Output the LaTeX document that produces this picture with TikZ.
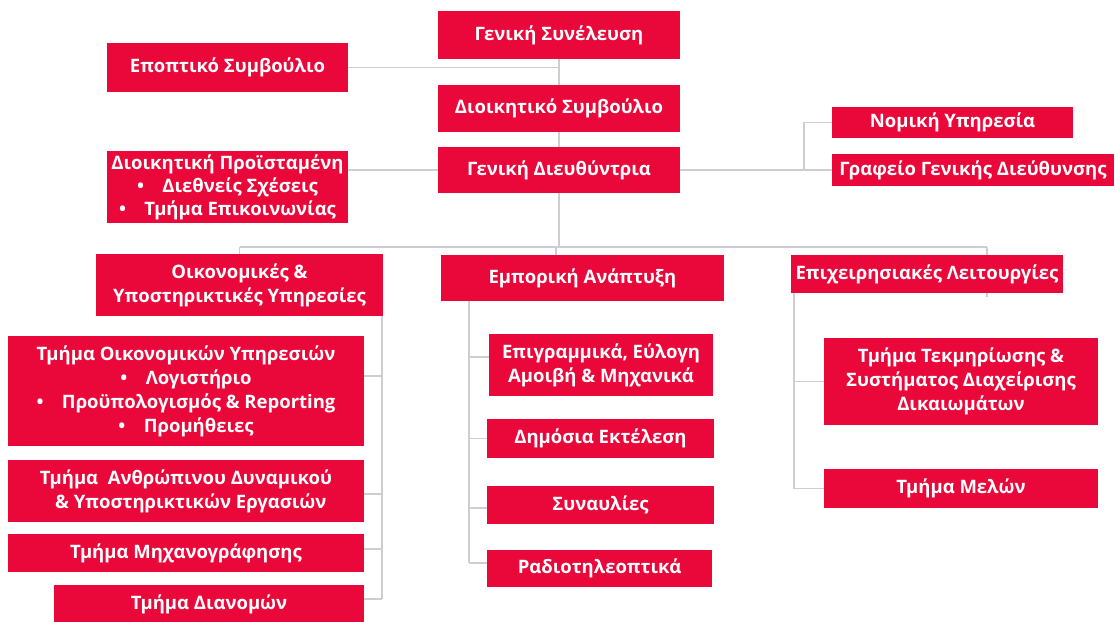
\documentclass[tikz,border=0pt]{standalone}
\usepackage{fontspec}
\setmainfont{Open Sans}
\usetikzlibrary{backgrounds}
\definecolor{boxred}{RGB}{234,8,58}
\definecolor{linegrey}{RGB}{205,205,210}
\tikzset{
  box/.style={fill=boxred, text=white, inner sep=1pt, align=center,
    font=\fontsize{18.5}{24}\selectfont\bfseries},
  link/.style={draw=linegrey, line width=1.1pt}
}
\begin{document}
\begin{tikzpicture}[x=1pt,y=-1pt]
\useasboundingbox (0,0) rectangle (1115,621);
% top
\node[box, minimum width=242, minimum height=48] (gs) at (559,35) {Γενική Συνέλευση};
\node[box, minimum width=242, minimum height=47] (ds) at (559,108.5) {Διοικητικό Συμβούλιο};
\node[box, minimum width=242, minimum height=46] (gd) at (559,170) {Γενική Διευθύντρια};
\node[box, minimum width=241, minimum height=49] (ep) at (227.5,67.5) {Εποπτικό Συμβούλιο};
\node[box, minimum width=241, minimum height=72] (dp) at (227.5,187) {Διοικητική Προϊσταμένη\\[-1pt] •\quad Διεθνείς Σχέσεις\\[-1pt] •\quad Τμήμα Επικοινωνίας};
\node[box, minimum width=241, minimum height=31] (nom) at (952.5,122.5) {Νομική Υπηρεσία};
\node[box, minimum width=282, minimum height=32] (gr) at (973,170) {Γραφείο Γενικής Διεύθυνσης};
% second level
\node[box, minimum width=287, minimum height=62] (oik) at (239.5,285) {Οικονομικές \&\\ Υποστηρικτικές Υπηρεσίες};
\node[box, minimum width=283, minimum height=46] (emp) at (582.5,278) {Εμπορική Ανάπτυξη};
\node[box, minimum width=272, minimum height=38] (epix) at (927,274) {Επιχειρησιακές Λειτουργίες};
% left column
\node[box, minimum width=356, minimum height=110] (toy) at (186,391) {Τμήμα Οικονομικών Υπηρεσιών\\ •\quad Λογιστήριο\\ •\quad Προϋπολογισμός \& Reporting\\ •\quad Προμήθειες};
\node[box, minimum width=356, minimum height=62] (adn) at (186,491) {Τμήμα\ \ Ανθρώπινου Δυναμικού\\ \ \ \& Υποστηρικτικών Εργασιών};
\node[box, minimum width=356, minimum height=38] (mix) at (186,553) {Τμήμα Μηχανογράφησης};
\node[box, minimum width=310, minimum height=38] (dian) at (209,604) {Τμήμα Διανομών};
% middle column
\node[box, minimum width=224, minimum height=62] (epi) at (601,365) {Επιγραμμικά, Εύλογη\\ Αμοιβή \& Μηχανικά};
\node[box, minimum width=227, minimum height=39] (dim) at (600.5,438.5) {Δημόσια Εκτέλεση};
\node[box, minimum width=227, minimum height=38] (syn) at (600.5,505) {Συναυλίες};
\node[box, minimum width=225, minimum height=37] (rad) at (599.5,568.5) {Ραδιοτηλεοπτικά};
% right column
\node[box, minimum width=274, minimum height=87] (tek) at (961,381.5) {Τμήμα Τεκμηρίωσης \&\\ Συστήματος Διαχείρισης\\ Δικαιωμάτων};
\node[box, minimum width=274, minimum height=39] (mel) at (961,488.5) {Τμήμα Μελών};
% junction coordinates
\coordinate (hub) at (556,247);
\coordinate (hl) at (239.5,247);
\coordinate (hr) at (987,247);
\coordinate (hrend) at (987,297);
\coordinate (rj) at (804,170);
\coordinate (lsp) at (382,316);
\coordinate (lspend) at (382,599);
\coordinate (msp) at (469,301);
\coordinate (mspend) at (469,563);
\coordinate (rsp) at (794,293);
\coordinate (rspend) at (794,488.5);
\begin{pgfonlayer}{background}
\fill[white] (0,0) rectangle (1115,621);
\draw[link] (ep.east) -- (ep.east -| gs.south);
\draw[link] (gs.south) -- (ds.north);
\draw[link] (ds.south) -- (gd.north);
\draw[link] (gd.west) -- (gd.west -| dp.east);
\draw[link] (gd.east) -- (gr.west);
\draw[link] (rj) |- (nom.west);
\draw[link] (gd.south) -- (gd.south |- hub);
\draw[link] (hl) -- (hr);
\draw[link] (hl) -- (oik.north);
\draw[link] (hub) -- (hub |- emp.north);
\draw[link] (hr) -- (hrend);
% left spine
\draw[link] (lsp) -- (lspend);
\draw[link] ([yshift=15pt]toy.east) -- ([yshift=15pt]toy.east -| lsp);
\draw[link] ([yshift=-3pt]adn.east) -- ([yshift=-3pt]adn.east -| lsp);
\draw[link] ([yshift=4pt]mix.east) -- ([yshift=4pt]mix.east -| lsp);
\draw[link] (dian.east |- lspend) -- (lspend);
% middle spine
\draw[link] (msp) -- (mspend);
\draw[link] ([yshift=8pt]epi.west) -- ([yshift=8pt]epi.west -| msp);
\draw[link] (dim.west) -- (dim.west -| msp);
\draw[link] ([yshift=-3pt]syn.west) -- ([yshift=-3pt]syn.west -| msp);
\draw[link] (rad.west |- mspend) -- (mspend);
% right spine
\draw[link] (rsp) -- (rspend);
\draw[link] (tek.west) -- (tek.west -| rsp);
\draw[link] (mel.west) -- (rspend);
\end{pgfonlayer}
\end{tikzpicture}
\end{document}
